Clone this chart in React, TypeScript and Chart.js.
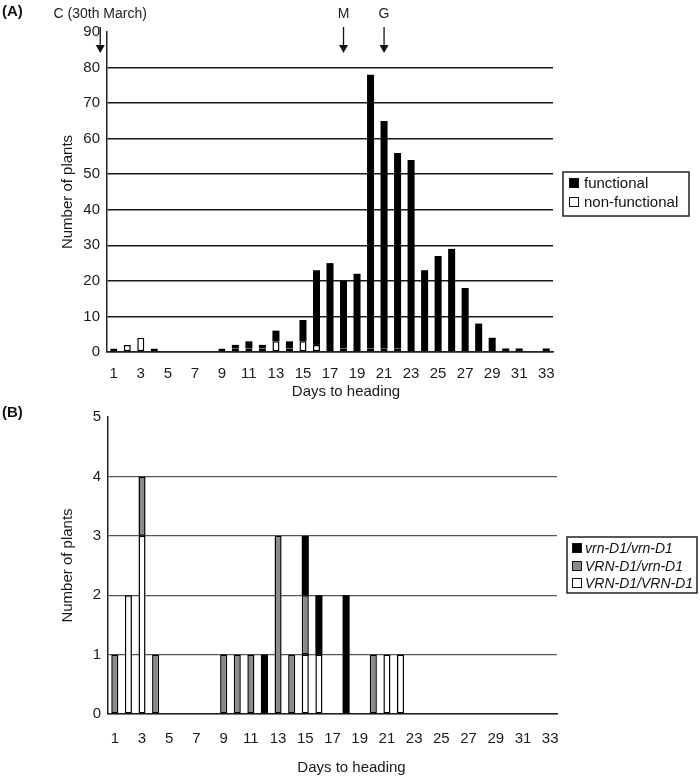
import React, { useEffect, useRef } from "react";
import { Chart, registerables } from "chart.js";

Chart.register(...registerables);

const FONT = "'Liberation Sans', Arial, Helvetica, sans-serif";
Chart.defaults.font.family = FONT;

// ---------- data ----------
const days = [
  "1", "2", "3", "4", "5", "6", "7", "8", "9", "10", "11", "12", "13", "14", "15", "16", "17",
  "18", "19", "20", "21", "22", "23", "24", "25", "26", "27", "28", "29", "30", "31", "32", "33",
];

// Panel A
const functionalPlants = [
  0, 0, 0, 0, 0, 0, 0, 0, 0, 1, 2, 1, 3, 2, 6, 21, 25, 19, 22, 77, 64, 55, 54, 23, 27, 29, 18, 8, 4, 1, 1, 0, 1,
];
const nonFunctionalPlants = [
  1, 2, 4, 1, 0, 0, 0, 0, 1, 1, 1, 1, 3, 1, 3, 2, 0, 1, 0, 1, 1, 1, 0, 0, 0, 0, 0, 0, 0, 0, 0, 0, 0,
];
const yMaxA = 90;
const yStepA = 10;

const arrowLabels = ["C (30th March)", "M", "G"];
const arrowDays = [0, 18, 21];

// Panel B
const recessiveHomo = [
  0, 0, 0, 0, 0, 0, 0, 0, 0, 0, 0, 1, 0, 0, 1, 1, 0, 2, 0, 0, 0, 0, 0, 0, 0, 0, 0, 0, 0, 0, 0, 0, 0,
]; // vrn-D1/vrn-D1
const hetero = [
  1, 0, 1, 1, 0, 0, 0, 0, 1, 1, 1, 0, 3, 1, 1, 0, 0, 0, 0, 1, 0, 0, 0, 0, 0, 0, 0, 0, 0, 0, 0, 0, 0,
]; // VRN-D1/vrn-D1
const dominantHomo = [
  0, 2, 3, 0, 0, 0, 0, 0, 0, 0, 0, 0, 0, 0, 1, 1, 0, 0, 0, 0, 1, 1, 0, 0, 0, 0, 0, 0, 0, 0, 0, 0, 0,
]; // VRN-D1/VRN-D1
const yMaxB = 5;
const yStepB = 1;

const xTitle = "Days to heading";
const yTitle = "Number of plants";

// ---------- helpers ----------
type LegendItem = { label: string; fill: string };

function drawLegend(
  ctx: CanvasRenderingContext2D,
  items: LegendItem[],
  box: { x: number; y: number; w: number; h: number },
  rowY: number[],
  sqX: number,
  textX: number,
  font: string
) {
  ctx.save();
  ctx.fillStyle = "#fff";
  ctx.fillRect(box.x, box.y, box.w, box.h);
  ctx.strokeStyle = "#222";
  ctx.lineWidth = 1.5;
  ctx.strokeRect(box.x, box.y, box.w, box.h);
  ctx.font = font;
  ctx.textAlign = "left";
  ctx.textBaseline = "middle";
  items.forEach((it, i) => {
    const y = rowY[i];
    ctx.fillStyle = it.fill;
    ctx.fillRect(sqX, y - 5, 10, 10);
    ctx.strokeStyle = "#111";
    ctx.lineWidth = 1;
    ctx.strokeRect(sqX + 0.5, y - 4.5, 9, 9);
    ctx.fillStyle = "#111";
    ctx.fillText(it.label, textX, y + 1);
  });
  ctx.restore();
}

function drawXTitle(chart: any, dx: number, dy: number) {
  const { ctx, chartArea } = chart;
  ctx.save();
  ctx.font = `15px ${FONT}`;
  ctx.fillStyle = "#1a1a1a";
  ctx.textAlign = "center";
  ctx.textBaseline = "middle";
  ctx.fillText(xTitle, (chartArea.left + chartArea.right) / 2 + dx, chartArea.bottom + dy);
  ctx.restore();
}

const panelAPlugin = {
  id: "panelA",
  afterDraw(chart: any) {
    const { ctx, scales } = chart;
    const x = scales.x;
    ctx.save();
    ctx.fillStyle = "#111";
    ctx.font = `bold 15px ${FONT}`;
    ctx.textAlign = "left";
    ctx.textBaseline = "middle";
    ctx.fillText("(A)", 2, 12);
    arrowDays.forEach((d, i) => {
      const px = x.getPixelForValue(d - 1);
      ctx.font = `14px ${FONT}`;
      ctx.textAlign = "center";
      ctx.fillStyle = "#222";
      ctx.fillText(arrowLabels[i], px, 14);
      ctx.beginPath();
      ctx.moveTo(px, 27);
      ctx.lineTo(px, 46);
      ctx.lineWidth = 1.3;
      ctx.strokeStyle = "#111";
      ctx.stroke();
      ctx.beginPath();
      ctx.moveTo(px - 4.5, 45);
      ctx.lineTo(px + 4.5, 45);
      ctx.lineTo(px, 53);
      ctx.closePath();
      ctx.fillStyle = "#111";
      ctx.fill();
    });
    ctx.restore();
    drawXTitle(chart, 16, 40);
    const ds = chart.data.datasets;
    drawLegend(
      ctx,
      [
        { label: ds[1].label, fill: ds[1].backgroundColor },
        { label: ds[0].label, fill: ds[0].backgroundColor },
      ],
      { x: 563, y: 172, w: 126, h: 44 },
      [183, 202],
      569,
      584,
      `15px ${FONT}`
    );
  },
};

const panelBPlugin = {
  id: "panelB",
  afterDraw(chart: any) {
    const { ctx } = chart;
    ctx.save();
    ctx.fillStyle = "#111";
    ctx.font = `bold 15px ${FONT}`;
    ctx.textAlign = "left";
    ctx.textBaseline = "middle";
    ctx.fillText("(B)", 2, 13);
    ctx.restore();
    drawXTitle(chart, 19, 54);
    const ds = chart.data.datasets;
    drawLegend(
      ctx,
      [
        { label: ds[2].label, fill: ds[2].backgroundColor },
        { label: ds[1].label, fill: ds[1].backgroundColor },
        { label: ds[0].label, fill: ds[0].backgroundColor },
      ],
      { x: 567, y: 137, w: 130, h: 56 },
      [148, 166, 183],
      572,
      585,
      `italic 14px ${FONT}`
    );
  },
};

const barCommon = {
  borderSkipped: false as const,
  barPercentage: 0.52,
  categoryPercentage: 1,
  borderWidth: 1.5,
  borderColor: "#000",
};
const barSolid = { ...barCommon, borderWidth: 0 };

function makeOptions(opts: {
  yMax: number;
  yStep: number;
  padTop: number;
  padRight: number;
  yWidth: number;
  xHeight: number;
  xPad: number;
  gridColor: string;
  gridWidth: number;
}) {
  return {
    animation: false,
    responsive: false,
    layout: { padding: { top: opts.padTop, right: opts.padRight, left: 0, bottom: 0 } },
    plugins: { legend: { display: false }, tooltip: { enabled: false } },
    scales: {
      x: {
        stacked: true,
        grid: { display: false, drawTicks: false },
        border: { display: true, color: "#222", width: 1.5 },
        ticks: {
          autoSkip: false,
          maxRotation: 0,
          padding: opts.xPad,
          color: "#1a1a1a",
          font: { size: 15 },
          callback: (_v: any, i: number) => (i % 2 === 0 ? days[i] : ""),
        },
        afterFit: (s: any) => {
          s.height = opts.xHeight;
        },
      },
      y: {
        stacked: true,
        min: 0,
        max: opts.yMax,
        ticks: { stepSize: opts.yStep, padding: 7, color: "#1a1a1a", font: { size: 15 } },
        grid: {
          drawTicks: false,
          color: (c: any) => (c.tick && c.tick.value === opts.yMax ? "rgba(0,0,0,0)" : opts.gridColor),
          lineWidth: opts.gridWidth,
        },
        border: { display: true, color: "#222", width: 1.5 },
        title: {
          display: true,
          text: yTitle,
          color: "#1a1a1a",
          font: { size: 15 },
          padding: { top: 59, bottom: 0 },
        },
        afterFit: (s: any) => {
          s.width = opts.yWidth;
        },
      },
    },
  };
}

export default function App() {
  const refA = useRef<HTMLCanvasElement>(null);
  const refB = useRef<HTMLCanvasElement>(null);

  useEffect(() => {
    const chartA = new Chart(refA.current as HTMLCanvasElement, {
      type: "bar",
      data: {
        labels: days,
        datasets: [
          { label: "non-functional", data: nonFunctionalPlants, backgroundColor: "#ffffff", ...barCommon },
          { label: "functional", data: functionalPlants, backgroundColor: "#000000", ...barSolid },
        ],
      },
      options: makeOptions({
        yMax: yMaxA,
        yStep: yStepA,
        padTop: 32,
        padRight: 147,
        yWidth: 107,
        xHeight: 48,
        xPad: 13,
        gridColor: "#1a1a1a",
        gridWidth: 1.6,
      }) as any,
      plugins: [panelAPlugin],
    });

    const chartB = new Chart(refB.current as HTMLCanvasElement, {
      type: "bar",
      data: {
        labels: days,
        datasets: [
          { label: "VRN-D1/VRN-D1", data: dominantHomo, backgroundColor: "#ffffff", ...barCommon },
          { label: "VRN-D1/vrn-D1", data: hetero, backgroundColor: "#8a8a8a", ...barCommon },
          { label: "vrn-D1/vrn-D1", data: recessiveHomo, backgroundColor: "#000000", ...barSolid },
        ],
      },
      options: makeOptions({
        yMax: yMaxB,
        yStep: yStepB,
        padTop: 17,
        padRight: 143,
        yWidth: 108,
        xHeight: 68,
        xPad: 16,
        gridColor: "#555",
        gridWidth: 1.2,
      }) as any,
      plugins: [panelBPlugin],
    });

    return () => {
      chartA.destroy();
      chartB.destroy();
    };
  }, []);

  return (
    <div style={{ position: "absolute", left: 0, top: 0, width: 700, height: 782, background: "#fff" }}>
      <canvas ref={refA} width={700} height={400} style={{ position: "absolute", left: 0, top: 0 }} />
      <canvas ref={refB} width={700} height={382} style={{ position: "absolute", left: 0, top: 400 }} />
    </div>
  );
}
